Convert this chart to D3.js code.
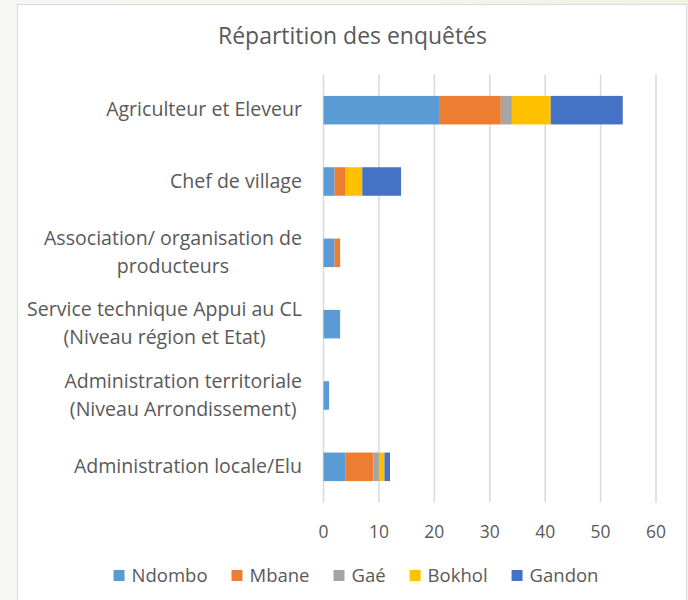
<!DOCTYPE html>
<html>
<head>
<meta charset="utf-8">
<script src="https://cdn.jsdelivr.net/npm/d3@7"></script>
<style>
  html, body { margin:0; padding:0; }
  body { width:688px; height:600px; overflow:hidden;
    background: linear-gradient(90deg, #f6f7f2 0%, #f4f6ee 60%, #eef3e0 100%); }
  #chart { position:absolute; left:0; top:0; }
  text { font-family: "Open Sans", sans-serif; fill:#595959; }
</style>
</head>
<body>
<div id="chart"></div>
<script>
// Répartition des enquêtés - stacked horizontal bars
const categories = [
  'Agriculteur et Eleveur',
  'Chef de village',
  'Association/ organisation de\nproducteurs',
  'Service technique Appui au CL\n(Niveau région et Etat)',
  'Administration territoriale\n(Niveau Arrondissement)',
  'Administration locale/Elu'
];
const seriesNames = ['Ndombo', 'Mbane', 'Gaé', 'Bokhol', 'Gandon'];
const ndombo = [21, 2, 2, 3, 1, 4];
const mbane  = [11, 2, 1, 0, 0, 5];
const gae    = [2, 0, 0, 0, 0, 1];
const bokhol = [7, 3, 0, 0, 0, 1];
const gandon = [13, 7, 0, 0, 0, 1];
const xTicks = [0, 10, 20, 30, 40, 50, 60];
const colors = ['#5B9BD5', '#ED7D31', '#A5A5A5', '#FFC000', '#4472C4'];

const rows = categories.map((c, i) => ({
  cat: c, Ndombo: ndombo[i], Mbane: mbane[i], 'Gaé': gae[i], Bokhol: bokhol[i], Gandon: gandon[i]
}));

const W = 688, H = 600;
const svg = d3.select('#chart').append('svg').attr('width', W).attr('height', H);

// pick a font size so that a sample string gets the width seen in the original
function fitSize(sample, target) {
  const t = svg.append('text').style('font-size', '20px').text(sample);
  const w = t.node().getComputedTextLength();
  t.remove();
  return 20 * target / w;
}
const catSize = fitSize('Agriculteur et Eleveur', 196);
const titleSize = fitSize('Répartition des enquêtés', 269);
const legSize = fitSize('Ndombo', 76);
const tickSize = fitSize('10', 20);

// chart frame
svg.append('rect').attr('x', 17.5).attr('y', 4.5).attr('width', 669).attr('height', 610)
  .attr('fill', '#fff').attr('stroke', '#d9d9d9');

const x = d3.scaleLinear().domain([0, 60]).range([323.5, 656]);
const y = d3.scaleBand().domain(categories).range([74.5, 502.5]).paddingInner(0.6).paddingOuter(0.3);
const color = d3.scaleOrdinal().domain(seriesNames).range(colors);

// title
svg.append('text').attr('x', 352.5).attr('y', 44).attr('text-anchor', 'middle')
  .style('font-size', titleSize + 'px').text('Répartition des enquêtés');

// gridlines
svg.append('g').selectAll('line').data(xTicks).enter().append('line')
  .attr('x1', d => x(d)).attr('x2', d => x(d))
  .attr('y1', 74.5).attr('y2', 502.5)
  .attr('stroke', '#d9d9d9').attr('stroke-width', 1.5);

// x tick labels
svg.append('g').selectAll('text').data(xTicks).enter().append('text')
  .attr('x', d => x(d)).attr('y', 538).attr('text-anchor', 'middle')
  .style('font-size', tickSize + 'px').text(d => d);

// bars
const stack = d3.stack().keys(seriesNames)(rows);
svg.append('g').selectAll('g').data(stack).enter().append('g')
  .attr('fill', d => color(d.key))
  .selectAll('rect').data(d => d).enter().append('rect')
  .attr('x', d => x(d[0]))
  .attr('width', d => x(d[1]) - x(d[0]))
  .attr('y', d => y(d.data.cat))
  .attr('height', y.bandwidth());

// category labels (wrapped lines centered, block right-aligned to the axis)
const lab = svg.append('g').selectAll('text').data(categories).enter().append('text')
  .attr('text-anchor', 'middle').style('font-size', catSize + 'px');
lab.each(function(d) {
  const lines = d.split('\n');
  const cy = y(d) + y.bandwidth() / 2;
  const t = d3.select(this);
  lines.forEach((ln, i) => {
    t.append('tspan').attr('x', 175).attr('y', cy + 6 + (i - (lines.length - 1) / 2) * 28).text(ln);
  });
});
lab.each(function() {
  const b = this.getBBox();
  d3.select(this).attr('transform', `translate(${302 - (b.x + b.width)},0)`);
});

// legend
const gap = 24;
const leg = svg.append('g');
let lx = 0;
seriesNames.forEach((s, i) => {
  const g = leg.append('g').attr('transform', `translate(${lx},0)`);
  g.append('rect').attr('x', 0).attr('y', 570).attr('width', 11).attr('height', 11).attr('fill', colors[i]);
  const t = g.append('text').attr('x', 18).attr('y', 582).style('font-size', legSize + 'px').text(s);
  lx += 18 + t.node().getComputedTextLength() + gap;
});
const legW = lx - gap;
leg.attr('transform', `translate(${356 - legW / 2},0)`);
</script>
</body>
</html>
